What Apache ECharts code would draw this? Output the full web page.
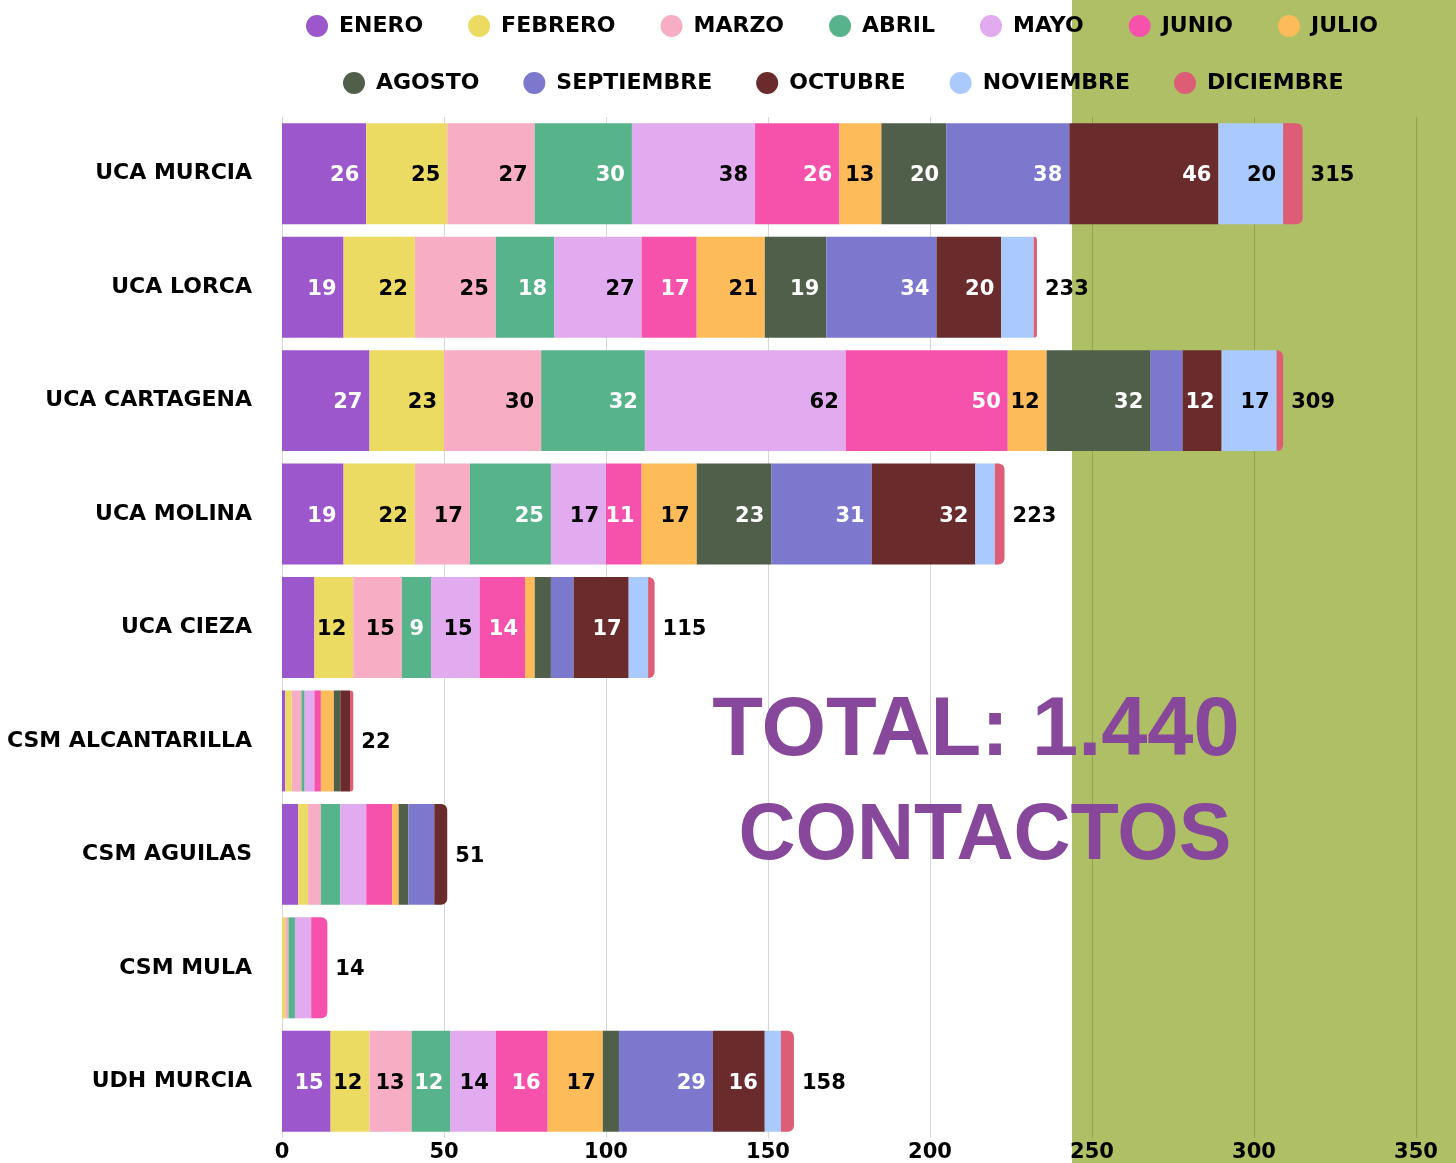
<!DOCTYPE html>
<html>
<head>
<meta charset="utf-8">
<script src="https://cdn.jsdelivr.net/npm/echarts@6/dist/echarts.min.js"></script>
<style>
html,body{margin:0;padding:0;background:#fff;}
#chart{width:1456px;height:1163px;}
</style>
</head>
<body>
<div id="chart"></div>
<script>
const categories = ['UCA MURCIA','UCA LORCA','UCA CARTAGENA','UCA MOLINA','UCA CIEZA','CSM ALCANTARILLA','CSM AGUILAS','CSM MULA','UDH MURCIA'];
const months = ['ENERO','FEBRERO','MARZO','ABRIL','MAYO','JUNIO','JULIO','AGOSTO','SEPTIEMBRE','OCTUBRE','NOVIEMBRE','DICIEMBRE'];

const enero      = [26,19,27,19,10,1,5,0,15];
const febrero    = [25,22,23,22,12,2,3,1,12];
const marzo      = [27,25,30,17,15,3,4,1,13];
const abril      = [30,18,32,25, 9,1,6,2,12];
const mayo       = [38,27,62,17,15,3,8,5,14];
const junio      = [26,17,50,11,14,2,8,5,16];
const julio      = [13,21,12,17, 3,4,2,0,17];
const agosto     = [20,19,32,23, 5,2,3,0, 5];
const septiembre = [38,34,10,31, 7,0,8,0,29];
const octubre    = [46,20,12,32,17,3,4,0,16];
const noviembre  = [20,10,17, 6, 6,0,0,0, 5];
const diciembre  = [ 6, 1, 2, 3, 2,1,0,0, 4];

const xTicks = [0,50,100,150,200,250,300,350];

const seriesValues = [enero,febrero,marzo,abril,mayo,junio,julio,agosto,septiembre,octubre,noviembre,diciembre];
const colors = ['#9b57cb','#ecdb63','#f7aec5','#56b38a','#e2aaef','#f652ac','#fdbb59','#4f5f4a','#7b78cd','#6a2b2d','#aac9fd','#dd5c76'];
const labelColors = ['#fff','#000','#000','#fff','#000','#fff','#000','#fff','#fff','#fff','#000','#fff'];
const hiddenLabels = ['UCA LORCA|NOVIEMBRE','UCA CARTAGENA|SEPTIEMBRE','UCA CIEZA|ENERO'];

const totals = categories.map((c,i)=>seriesValues.reduce((s,arr)=>s+arr[i],0));
const grandTotal = totals.reduce((a,b)=>a+b,0);
const grandTotalText = String(grandTotal).replace(/\B(?=(\d{3})+(?!\d))/g,'.');
const lastIdx = categories.map((c,i)=>{let k=-1; seriesValues.forEach((arr,m)=>{if(arr[i]>0)k=m;}); return k;});

const FONT = 'DejaVu Sans';
const series = months.map((m,mi)=>({
  name: m,
  type: 'bar',
  stack: 'total',
  barCategoryGap: '11%',
  itemStyle: {color: colors[mi]},
  label: {
    show: true,
    position: 'insideRight',
    distance: 7,
    offset: [0, 2],
    color: labelColors[mi],
    fontFamily: FONT,
    fontWeight: 'bold',
    fontSize: 21,
    formatter: p => (p.value >= 9 && hiddenLabels.indexOf(categories[p.dataIndex]+'|'+m) < 0) ? String(p.value) : ''
  },
  data: seriesValues[mi].map((v,ci)=> lastIdx[ci]===mi ? {value:v, itemStyle:{borderRadius:[0,6,6,0]}} : v)
}));
series.push({
  name: 'TOTAL',
  type: 'bar',
  stack: 'total',
  itemStyle: {color: 'transparent'},
  label: {
    show: true, position: 'right', distance: 8, offset: [0, 2],
    color: '#000', fontFamily: FONT, fontWeight: 'bold', fontSize: 21,
    formatter: p => String(totals[p.dataIndex])
  },
  data: categories.map(()=>0)
});

const legendBase = {
  icon: 'circle', itemWidth: 22, itemHeight: 22, itemGap: 45, padding: 0,
  textStyle: {fontFamily: FONT, fontWeight: 'bold', fontSize: 22, color: '#000', padding: [3,0,0,6]}
};

const chart = echarts.init(document.getElementById('chart'));
chart.setOption({
  animation: false,
  backgroundColor: '#ffffff',
  graphic: [
    {type:'rect', z:-10, silent:true, shape:{x:1072,y:0,width:384,height:1163}, style:{fill:'#aebf66'}},
    {type:'text', z:100, style:{text:'TOTAL: ' + grandTotalText, x:976, y:732, align:'center', verticalAlign:'middle', fontFamily:'Liberation Sans', fontWeight:'bold', fontSize:83, fill:'#87479a'}},
    {type:'text', z:100, style:{text:'CONTACTOS', x:985, y:837, align:'center', verticalAlign:'middle', fontFamily:'Liberation Sans', fontWeight:'bold', fontSize:79, fill:'#87479a'}}
  ],
  legend: [
    Object.assign({}, legendBase, {data: months.slice(0,7), left: 306, top: 15}),
    Object.assign({}, legendBase, {data: months.slice(7), left: 343, top: 72, itemGap: 44})
  ],
  grid: {left: 282, right: 40, top: 117, bottom: 25, containLabel: false},
  xAxis: {
    type: 'value', min: xTicks[0], max: xTicks[xTicks.length-1], interval: 50,
    axisLine: {show:false}, axisTick: {show:false},
    splitLine: {show:true, lineStyle:{color:'rgba(0,0,0,0.16)', width:1}},
    axisLabel: {margin: 4, color:'#000', fontFamily: FONT, fontWeight:'bold', fontSize: 21}
  },
  yAxis: {
    type: 'category', inverse: true, data: categories,
    axisLine: {show:false}, axisTick: {show:false},
    axisLabel: {margin: 30, color:'#000', fontFamily: FONT, fontWeight:'bold', fontSize: 22, padding: [9,0,0,0]}
  },
  series: series
});
</script>
</body>
</html>
